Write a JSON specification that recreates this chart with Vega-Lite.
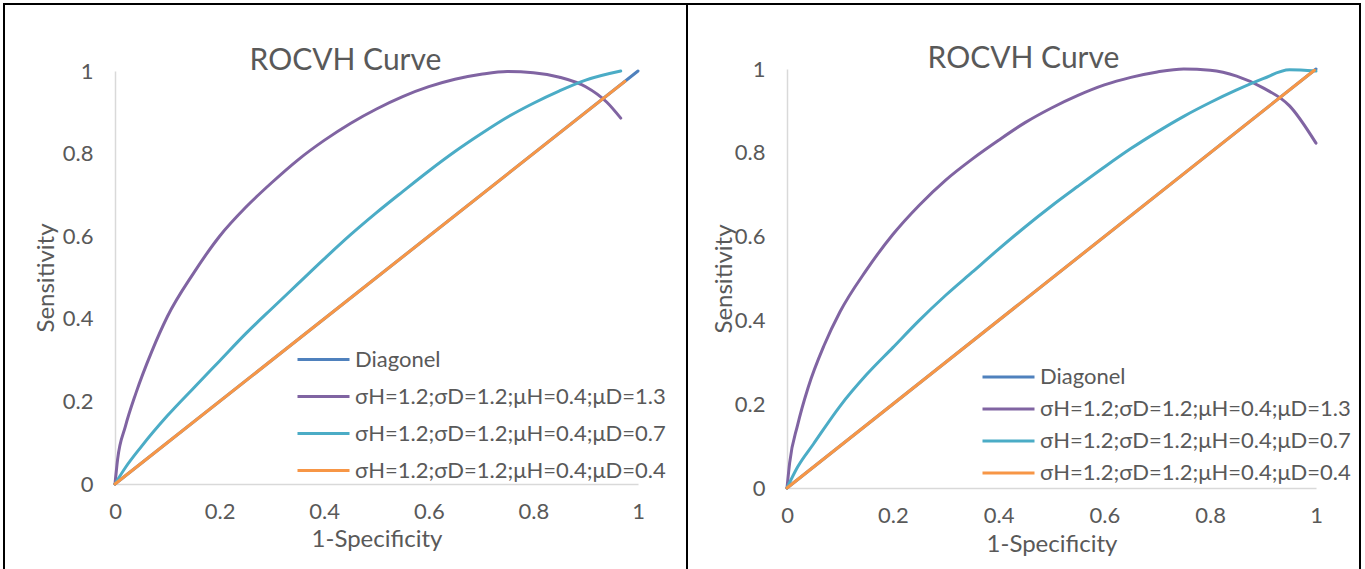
{
  "$schema": "https://vega.github.io/schema/vega-lite/v6.json",
  "padding": {"left": 3, "top": 3, "right": 0, "bottom": 0},
  "bounds": "flush",
  "spacing": 0,
  "resolve": {"scale": {"color": "independent"}, "legend": {"color": "independent"}},
  "config": {
    "view": {"stroke": "black", "strokeWidth": 2},
    "font": "Lato",
    "axis": {"grid": false, "ticks": false, "labelFlush": false, "domainColor": "#D9D9D9", "domainWidth": 1.5, "labelColor": "#595959", "labelFontSize": 22, "labelFont": "Lato", "titleColor": "#595959", "titleFontSize": 24, "titleFont": "Lato", "titleFontWeight": "normal"},
    "legend": {"labelColor": "#595959", "labelFontSize": 22, "labelFont": "Lato", "labelLimit": 0, "symbolType": "stroke", "symbolSize": 2704, "symbolStrokeWidth": 3, "labelOffset": 4, "title": null, "orient": "none", "rowPadding": 0},
    "title": {"color": "#595959", "fontSize": 30, "font": "Lato", "fontWeight": "normal", "anchor": "middle", "frame": "group"},
    "line": {"strokeWidth": 3, "strokeCap": "round", "strokeJoin": "round", "interpolate": "monotone"}
  },
  "datasets": {
    "left": [
      {"series": "Diagonel", "x": 0, "y": 0},
      {"series": "Diagonel", "x": 1, "y": 1},
      {"series": "σH=1.2;σD=1.2;μH=0.4;μD=1.3", "x": 0, "y": 0},
      {"series": "σH=1.2;σD=1.2;μH=0.4;μD=1.3", "x": 0.005, "y": 0.06},
      {"series": "σH=1.2;σD=1.2;μH=0.4;μD=1.3", "x": 0.02, "y": 0.14},
      {"series": "σH=1.2;σD=1.2;μH=0.4;μD=1.3", "x": 0.04, "y": 0.22},
      {"series": "σH=1.2;σD=1.2;μH=0.4;μD=1.3", "x": 0.07, "y": 0.32},
      {"series": "σH=1.2;σD=1.2;μH=0.4;μD=1.3", "x": 0.1, "y": 0.405},
      {"series": "σH=1.2;σD=1.2;μH=0.4;μD=1.3", "x": 0.15, "y": 0.51},
      {"series": "σH=1.2;σD=1.2;μH=0.4;μD=1.3", "x": 0.2, "y": 0.6},
      {"series": "σH=1.2;σD=1.2;μH=0.4;μD=1.3", "x": 0.25, "y": 0.67},
      {"series": "σH=1.2;σD=1.2;μH=0.4;μD=1.3", "x": 0.3, "y": 0.73},
      {"series": "σH=1.2;σD=1.2;μH=0.4;μD=1.3", "x": 0.35, "y": 0.785},
      {"series": "σH=1.2;σD=1.2;μH=0.4;μD=1.3", "x": 0.4, "y": 0.832},
      {"series": "σH=1.2;σD=1.2;μH=0.4;μD=1.3", "x": 0.45, "y": 0.873},
      {"series": "σH=1.2;σD=1.2;μH=0.4;μD=1.3", "x": 0.5, "y": 0.908},
      {"series": "σH=1.2;σD=1.2;μH=0.4;μD=1.3", "x": 0.55, "y": 0.938},
      {"series": "σH=1.2;σD=1.2;μH=0.4;μD=1.3", "x": 0.6, "y": 0.962},
      {"series": "σH=1.2;σD=1.2;μH=0.4;μD=1.3", "x": 0.65, "y": 0.98},
      {"series": "σH=1.2;σD=1.2;μH=0.4;μD=1.3", "x": 0.7, "y": 0.992},
      {"series": "σH=1.2;σD=1.2;μH=0.4;μD=1.3", "x": 0.75, "y": 0.999},
      {"series": "σH=1.2;σD=1.2;μH=0.4;μD=1.3", "x": 0.8, "y": 0.996},
      {"series": "σH=1.2;σD=1.2;μH=0.4;μD=1.3", "x": 0.85, "y": 0.985},
      {"series": "σH=1.2;σD=1.2;μH=0.4;μD=1.3", "x": 0.9, "y": 0.962},
      {"series": "σH=1.2;σD=1.2;μH=0.4;μD=1.3", "x": 0.94, "y": 0.925},
      {"series": "σH=1.2;σD=1.2;μH=0.4;μD=1.3", "x": 0.967, "y": 0.886},
      {"series": "σH=1.2;σD=1.2;μH=0.4;μD=0.7", "x": 0, "y": 0},
      {"series": "σH=1.2;σD=1.2;μH=0.4;μD=0.7", "x": 0.02, "y": 0.04},
      {"series": "σH=1.2;σD=1.2;μH=0.4;μD=0.7", "x": 0.05, "y": 0.09},
      {"series": "σH=1.2;σD=1.2;μH=0.4;μD=0.7", "x": 0.1, "y": 0.165},
      {"series": "σH=1.2;σD=1.2;μH=0.4;μD=0.7", "x": 0.15, "y": 0.232},
      {"series": "σH=1.2;σD=1.2;μH=0.4;μD=0.7", "x": 0.2, "y": 0.298},
      {"series": "σH=1.2;σD=1.2;μH=0.4;μD=0.7", "x": 0.25, "y": 0.364},
      {"series": "σH=1.2;σD=1.2;μH=0.4;μD=0.7", "x": 0.3, "y": 0.425},
      {"series": "σH=1.2;σD=1.2;μH=0.4;μD=0.7", "x": 0.35, "y": 0.485},
      {"series": "σH=1.2;σD=1.2;μH=0.4;μD=0.7", "x": 0.4, "y": 0.545},
      {"series": "σH=1.2;σD=1.2;μH=0.4;μD=0.7", "x": 0.45, "y": 0.603},
      {"series": "σH=1.2;σD=1.2;μH=0.4;μD=0.7", "x": 0.5, "y": 0.657},
      {"series": "σH=1.2;σD=1.2;μH=0.4;μD=0.7", "x": 0.55, "y": 0.708},
      {"series": "σH=1.2;σD=1.2;μH=0.4;μD=0.7", "x": 0.6, "y": 0.758},
      {"series": "σH=1.2;σD=1.2;μH=0.4;μD=0.7", "x": 0.65, "y": 0.805},
      {"series": "σH=1.2;σD=1.2;μH=0.4;μD=0.7", "x": 0.7, "y": 0.848},
      {"series": "σH=1.2;σD=1.2;μH=0.4;μD=0.7", "x": 0.75, "y": 0.888},
      {"series": "σH=1.2;σD=1.2;μH=0.4;μD=0.7", "x": 0.8, "y": 0.922},
      {"series": "σH=1.2;σD=1.2;μH=0.4;μD=0.7", "x": 0.85, "y": 0.952},
      {"series": "σH=1.2;σD=1.2;μH=0.4;μD=0.7", "x": 0.9, "y": 0.978},
      {"series": "σH=1.2;σD=1.2;μH=0.4;μD=0.7", "x": 0.967, "y": 1.0},
      {"series": "σH=1.2;σD=1.2;μH=0.4;μD=0.4", "x": 0, "y": 0},
      {"series": "σH=1.2;σD=1.2;μH=0.4;μD=0.4", "x": 0.975, "y": 0.975}
    ],
    "right": [
      {"series": "Diagonel", "x": 0, "y": 0},
      {"series": "Diagonel", "x": 1, "y": 1},
      {"series": "σH=1.2;σD=1.2;μH=0.4;μD=1.3", "x": 0, "y": 0},
      {"series": "σH=1.2;σD=1.2;μH=0.4;μD=1.3", "x": 0.005, "y": 0.06},
      {"series": "σH=1.2;σD=1.2;μH=0.4;μD=1.3", "x": 0.02, "y": 0.15},
      {"series": "σH=1.2;σD=1.2;μH=0.4;μD=1.3", "x": 0.04, "y": 0.24},
      {"series": "σH=1.2;σD=1.2;μH=0.4;μD=1.3", "x": 0.07, "y": 0.34},
      {"series": "σH=1.2;σD=1.2;μH=0.4;μD=1.3", "x": 0.1, "y": 0.42},
      {"series": "σH=1.2;σD=1.2;μH=0.4;μD=1.3", "x": 0.15, "y": 0.52},
      {"series": "σH=1.2;σD=1.2;μH=0.4;μD=1.3", "x": 0.2, "y": 0.605},
      {"series": "σH=1.2;σD=1.2;μH=0.4;μD=1.3", "x": 0.25, "y": 0.675},
      {"series": "σH=1.2;σD=1.2;μH=0.4;μD=1.3", "x": 0.3, "y": 0.735},
      {"series": "σH=1.2;σD=1.2;μH=0.4;μD=1.3", "x": 0.35, "y": 0.785},
      {"series": "σH=1.2;σD=1.2;μH=0.4;μD=1.3", "x": 0.4, "y": 0.83},
      {"series": "σH=1.2;σD=1.2;μH=0.4;μD=1.3", "x": 0.45, "y": 0.872},
      {"series": "σH=1.2;σD=1.2;μH=0.4;μD=1.3", "x": 0.5, "y": 0.907},
      {"series": "σH=1.2;σD=1.2;μH=0.4;μD=1.3", "x": 0.55, "y": 0.937},
      {"series": "σH=1.2;σD=1.2;μH=0.4;μD=1.3", "x": 0.6, "y": 0.962},
      {"series": "σH=1.2;σD=1.2;μH=0.4;μD=1.3", "x": 0.65, "y": 0.98},
      {"series": "σH=1.2;σD=1.2;μH=0.4;μD=1.3", "x": 0.7, "y": 0.993},
      {"series": "σH=1.2;σD=1.2;μH=0.4;μD=1.3", "x": 0.75, "y": 1.0},
      {"series": "σH=1.2;σD=1.2;μH=0.4;μD=1.3", "x": 0.8, "y": 0.997},
      {"series": "σH=1.2;σD=1.2;μH=0.4;μD=1.3", "x": 0.85, "y": 0.983},
      {"series": "σH=1.2;σD=1.2;μH=0.4;μD=1.3", "x": 0.9, "y": 0.955},
      {"series": "σH=1.2;σD=1.2;μH=0.4;μD=1.3", "x": 0.95, "y": 0.912},
      {"series": "σH=1.2;σD=1.2;μH=0.4;μD=1.3", "x": 1.0, "y": 0.823},
      {"series": "σH=1.2;σD=1.2;μH=0.4;μD=0.7", "x": 0, "y": 0},
      {"series": "σH=1.2;σD=1.2;μH=0.4;μD=0.7", "x": 0.02, "y": 0.05},
      {"series": "σH=1.2;σD=1.2;μH=0.4;μD=0.7", "x": 0.05, "y": 0.105},
      {"series": "σH=1.2;σD=1.2;μH=0.4;μD=0.7", "x": 0.1, "y": 0.195},
      {"series": "σH=1.2;σD=1.2;μH=0.4;μD=0.7", "x": 0.15, "y": 0.27},
      {"series": "σH=1.2;σD=1.2;μH=0.4;μD=0.7", "x": 0.2, "y": 0.335},
      {"series": "σH=1.2;σD=1.2;μH=0.4;μD=0.7", "x": 0.25, "y": 0.4},
      {"series": "σH=1.2;σD=1.2;μH=0.4;μD=0.7", "x": 0.3, "y": 0.46},
      {"series": "σH=1.2;σD=1.2;μH=0.4;μD=0.7", "x": 0.35, "y": 0.515},
      {"series": "σH=1.2;σD=1.2;μH=0.4;μD=0.7", "x": 0.4, "y": 0.57},
      {"series": "σH=1.2;σD=1.2;μH=0.4;μD=0.7", "x": 0.45, "y": 0.623},
      {"series": "σH=1.2;σD=1.2;μH=0.4;μD=0.7", "x": 0.5, "y": 0.673},
      {"series": "σH=1.2;σD=1.2;μH=0.4;μD=0.7", "x": 0.55, "y": 0.72},
      {"series": "σH=1.2;σD=1.2;μH=0.4;μD=0.7", "x": 0.6, "y": 0.766},
      {"series": "σH=1.2;σD=1.2;μH=0.4;μD=0.7", "x": 0.65, "y": 0.81},
      {"series": "σH=1.2;σD=1.2;μH=0.4;μD=0.7", "x": 0.7, "y": 0.85},
      {"series": "σH=1.2;σD=1.2;μH=0.4;μD=0.7", "x": 0.75, "y": 0.887},
      {"series": "σH=1.2;σD=1.2;μH=0.4;μD=0.7", "x": 0.8, "y": 0.92},
      {"series": "σH=1.2;σD=1.2;μH=0.4;μD=0.7", "x": 0.85, "y": 0.95},
      {"series": "σH=1.2;σD=1.2;μH=0.4;μD=0.7", "x": 0.9, "y": 0.977},
      {"series": "σH=1.2;σD=1.2;μH=0.4;μD=0.7", "x": 0.95, "y": 0.998},
      {"series": "σH=1.2;σD=1.2;μH=0.4;μD=0.7", "x": 1.0, "y": 0.995},
      {"series": "σH=1.2;σD=1.2;μH=0.4;μD=0.4", "x": 0, "y": 0},
      {"series": "σH=1.2;σD=1.2;μH=0.4;μD=0.4", "x": 0.997, "y": 0.997}
    ]
  },
  "hconcat": [
    {
      "width": 683,
      "height": 568,
      "data": {"name": "left"},
      "title": {"text": "ROCVH Curve", "offset": -72},
      "mark": {"type": "line"},
      "encoding": {
        "x": {"field": "x", "type": "quantitative", "scale": {"domain": [0, 1], "range": [111, 634], "nice": false},
              "axis": {"title": "1-Specificity", "values": [0, 0.2, 0.4, 0.6, 0.8, 1], "format": "~g", "offset": -88, "labelPadding": 17, "titlePadding": 5}},
        "y": {"field": "y", "type": "quantitative", "scale": {"domain": [0, 1], "range": [480, 67], "nice": false},
              "axis": {"title": "Sensitivity", "values": [0, 0.2, 0.4, 0.6, 0.8, 1], "format": "~g", "offset": -111, "labelPadding": 22, "titlePadding": 4}},
        "color": {"field": "series", "type": "nominal",
                  "scale": {"domain": ["Diagonel", "σH=1.2;σD=1.2;μH=0.4;μD=1.3", "σH=1.2;σD=1.2;μH=0.4;μD=0.7", "σH=1.2;σD=1.2;μH=0.4;μD=0.4"], "range": ["#4F81BD", "#8064A2", "#4BACC6", "#F79646"]},
                  "legend": {"legendX": 292, "legendY": 337, "clipHeight": 37}}
      }
    },
    {
      "width": 673,
      "height": 568,
      "data": {"name": "right"},
      "title": {"text": "ROCVH Curve", "offset": -70},
      "mark": {"type": "line"},
      "encoding": {
        "x": {"field": "x", "type": "quantitative", "scale": {"domain": [0, 1], "range": [100, 629], "nice": false},
              "axis": {"title": "1-Specificity", "values": [0, 0.2, 0.4, 0.6, 0.8, 1], "format": "~g", "offset": -84, "labelPadding": 17, "titlePadding": 6}},
        "y": {"field": "y", "type": "quantitative", "scale": {"domain": [0, 1], "range": [484, 65], "nice": false},
              "axis": {"title": "Sensitivity", "values": [0, 0.2, 0.4, 0.6, 0.8, 1], "format": "~g", "offset": -100, "labelPadding": 22, "titlePadding": -2}},
        "color": {"field": "series", "type": "nominal",
                  "scale": {"domain": ["Diagonel", "σH=1.2;σD=1.2;μH=0.4;μD=1.3", "σH=1.2;σD=1.2;μH=0.4;μD=0.7", "σH=1.2;σD=1.2;μH=0.4;μD=0.4"], "range": ["#4F81BD", "#8064A2", "#4BACC6", "#F79646"]},
                  "legend": {"legendX": 294, "legendY": 357, "clipHeight": 32}}
      }
    }
  ]
}
